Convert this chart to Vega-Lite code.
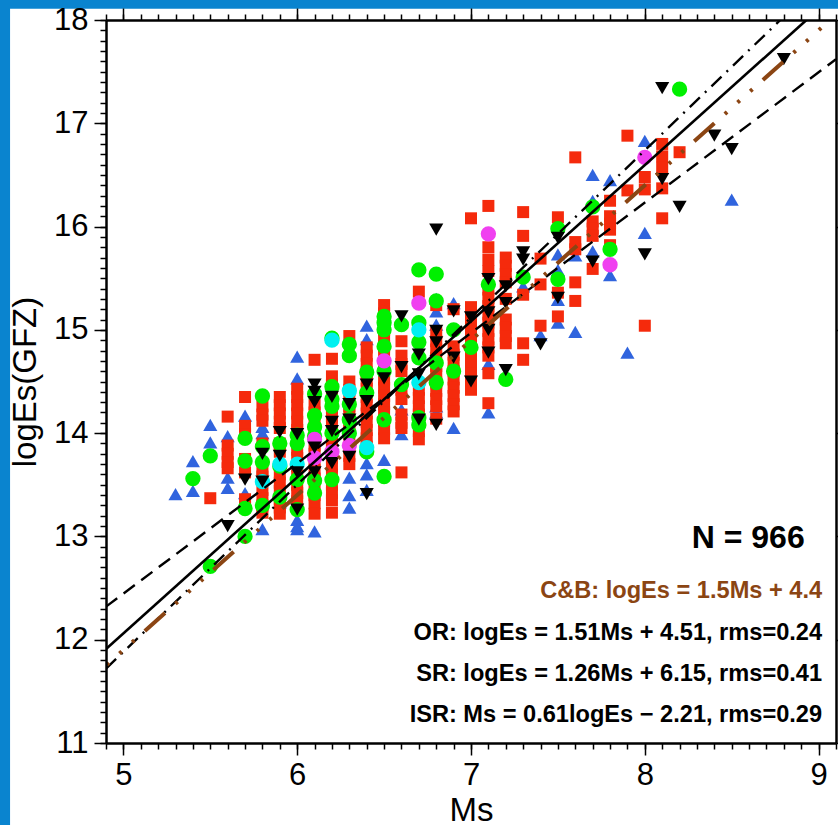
{"$schema":"https://vega.github.io/schema/vega-lite/v6.json","width":730,"height":723,"autosize":"none","padding":{"left":106,"top":20,"right":2,"bottom":82},"background":"#0a84cf","datasets":{
"frame":[{"x0":4.348,"x1":9.3,"y0":18.11,"y1":10}],
"blue":[{"Ms":5.3,"logEs":13.41},{"Ms":5.4,"logEs":13.73},{"Ms":5.4,"logEs":13.44},{"Ms":5.5,"logEs":14.08},{"Ms":5.5,"logEs":13.91},{"Ms":5.6,"logEs":13.97},{"Ms":5.6,"logEs":13.57},{"Ms":5.6,"logEs":13.47},{"Ms":5.7,"logEs":14.17},{"Ms":5.7,"logEs":13.42},{"Ms":5.8,"logEs":14.06},{"Ms":5.8,"logEs":14.0},{"Ms":5.8,"logEs":13.95},{"Ms":5.8,"logEs":13.07},{"Ms":5.9,"logEs":13.33},{"Ms":6.0,"logEs":14.74},{"Ms":6.0,"logEs":14.53},{"Ms":6.0,"logEs":13.16},{"Ms":6.0,"logEs":13.1},{"Ms":6.0,"logEs":13.07},{"Ms":6.1,"logEs":13.05},{"Ms":6.3,"logEs":13.57},{"Ms":6.3,"logEs":13.4},{"Ms":6.3,"logEs":13.28},{"Ms":6.4,"logEs":15.04},{"Ms":6.4,"logEs":14.91},{"Ms":6.4,"logEs":13.71},{"Ms":6.4,"logEs":13.6},{"Ms":6.4,"logEs":13.45},{"Ms":6.5,"logEs":13.74},{"Ms":6.6,"logEs":14.23},{"Ms":6.6,"logEs":13.99},{"Ms":6.7,"logEs":14.15},{"Ms":6.8,"logEs":15.3},{"Ms":6.8,"logEs":15.18},{"Ms":6.8,"logEs":15.05},{"Ms":6.8,"logEs":14.2},{"Ms":6.8,"logEs":14.26},{"Ms":6.9,"logEs":15.26},{"Ms":6.9,"logEs":14.05},{"Ms":7.1,"logEs":14.67},{"Ms":7.1,"logEs":14.2},{"Ms":7.3,"logEs":15.42},{"Ms":7.4,"logEs":14.95},{"Ms":7.5,"logEs":15.73},{"Ms":7.5,"logEs":15.58},{"Ms":7.5,"logEs":15.29},{"Ms":7.5,"logEs":15.07},{"Ms":7.6,"logEs":15.72},{"Ms":7.6,"logEs":14.98},{"Ms":7.7,"logEs":16.5},{"Ms":7.7,"logEs":16.25},{"Ms":7.7,"logEs":15.76},{"Ms":7.8,"logEs":16.45},{"Ms":7.8,"logEs":15.53},{"Ms":7.9,"logEs":14.78},{"Ms":8.0,"logEs":16.83},{"Ms":8.0,"logEs":15.94},{"Ms":8.5,"logEs":16.26}],
"red":[{"Ms":5.5,"logEs":13.37},{"Ms":5.6,"logEs":14.16},{"Ms":5.6,"logEs":13.88},{"Ms":5.6,"logEs":13.8},{"Ms":5.6,"logEs":13.72},{"Ms":5.6,"logEs":13.66},{"Ms":5.7,"logEs":14.35},{"Ms":5.7,"logEs":14.07},{"Ms":5.7,"logEs":13.99},{"Ms":5.7,"logEs":13.75},{"Ms":5.7,"logEs":13.62},{"Ms":5.7,"logEs":13.36},{"Ms":5.7,"logEs":13.28},{"Ms":5.8,"logEs":14.26},{"Ms":5.8,"logEs":14.18},{"Ms":5.8,"logEs":14.12},{"Ms":5.8,"logEs":13.9},{"Ms":5.8,"logEs":13.65},{"Ms":5.8,"logEs":13.58},{"Ms":5.8,"logEs":13.45},{"Ms":5.8,"logEs":13.37},{"Ms":5.8,"logEs":13.3},{"Ms":5.8,"logEs":13.23},{"Ms":5.9,"logEs":14.35},{"Ms":5.9,"logEs":14.27},{"Ms":5.9,"logEs":14.19},{"Ms":5.9,"logEs":14.11},{"Ms":5.9,"logEs":14.05},{"Ms":5.9,"logEs":13.9},{"Ms":5.9,"logEs":13.82},{"Ms":5.9,"logEs":13.6},{"Ms":5.9,"logEs":13.52},{"Ms":5.9,"logEs":13.44},{"Ms":5.9,"logEs":13.36},{"Ms":5.9,"logEs":13.28},{"Ms":5.9,"logEs":13.22},{"Ms":6.0,"logEs":14.43},{"Ms":6.0,"logEs":14.35},{"Ms":6.0,"logEs":14.27},{"Ms":6.0,"logEs":14.19},{"Ms":6.0,"logEs":14.11},{"Ms":6.0,"logEs":14.03},{"Ms":6.0,"logEs":13.84},{"Ms":6.0,"logEs":13.76},{"Ms":6.0,"logEs":13.68},{"Ms":6.0,"logEs":13.6},{"Ms":6.0,"logEs":13.5},{"Ms":6.0,"logEs":13.42},{"Ms":6.0,"logEs":13.34},{"Ms":6.1,"logEs":14.71},{"Ms":6.1,"logEs":14.28},{"Ms":6.1,"logEs":14.2},{"Ms":6.1,"logEs":14.12},{"Ms":6.1,"logEs":14.04},{"Ms":6.1,"logEs":13.96},{"Ms":6.1,"logEs":13.88},{"Ms":6.1,"logEs":13.8},{"Ms":6.1,"logEs":13.72},{"Ms":6.1,"logEs":13.64},{"Ms":6.1,"logEs":13.56},{"Ms":6.1,"logEs":13.48},{"Ms":6.1,"logEs":13.4},{"Ms":6.1,"logEs":13.32},{"Ms":6.1,"logEs":13.22},{"Ms":6.2,"logEs":14.72},{"Ms":6.2,"logEs":14.55},{"Ms":6.2,"logEs":14.47},{"Ms":6.2,"logEs":14.4},{"Ms":6.2,"logEs":14.32},{"Ms":6.2,"logEs":14.24},{"Ms":6.2,"logEs":14.16},{"Ms":6.2,"logEs":14.08},{"Ms":6.2,"logEs":14.0},{"Ms":6.2,"logEs":13.92},{"Ms":6.2,"logEs":13.84},{"Ms":6.2,"logEs":13.76},{"Ms":6.2,"logEs":13.68},{"Ms":6.2,"logEs":13.6},{"Ms":6.2,"logEs":13.5},{"Ms":6.2,"logEs":13.42},{"Ms":6.2,"logEs":13.35},{"Ms":6.2,"logEs":13.23},{"Ms":6.3,"logEs":14.94},{"Ms":6.3,"logEs":14.5},{"Ms":6.3,"logEs":14.42},{"Ms":6.3,"logEs":14.34},{"Ms":6.3,"logEs":14.26},{"Ms":6.3,"logEs":14.18},{"Ms":6.3,"logEs":14.1},{"Ms":6.3,"logEs":14.02},{"Ms":6.3,"logEs":13.94},{"Ms":6.3,"logEs":13.86},{"Ms":6.3,"logEs":13.78},{"Ms":6.3,"logEs":13.7},{"Ms":6.4,"logEs":14.83},{"Ms":6.4,"logEs":14.75},{"Ms":6.4,"logEs":14.67},{"Ms":6.4,"logEs":14.59},{"Ms":6.4,"logEs":14.51},{"Ms":6.4,"logEs":14.43},{"Ms":6.4,"logEs":14.35},{"Ms":6.4,"logEs":14.27},{"Ms":6.4,"logEs":14.19},{"Ms":6.4,"logEs":14.11},{"Ms":6.4,"logEs":14.03},{"Ms":6.4,"logEs":13.95},{"Ms":6.4,"logEs":13.87},{"Ms":6.5,"logEs":15.24},{"Ms":6.5,"logEs":15.16},{"Ms":6.5,"logEs":15.08},{"Ms":6.5,"logEs":15.0},{"Ms":6.5,"logEs":14.92},{"Ms":6.5,"logEs":14.84},{"Ms":6.5,"logEs":14.76},{"Ms":6.5,"logEs":14.68},{"Ms":6.5,"logEs":14.6},{"Ms":6.5,"logEs":14.52},{"Ms":6.5,"logEs":14.44},{"Ms":6.5,"logEs":14.36},{"Ms":6.5,"logEs":14.28},{"Ms":6.5,"logEs":14.2},{"Ms":6.5,"logEs":14.12},{"Ms":6.5,"logEs":14.04},{"Ms":6.5,"logEs":13.95},{"Ms":6.6,"logEs":14.89},{"Ms":6.6,"logEs":14.75},{"Ms":6.6,"logEs":14.67},{"Ms":6.6,"logEs":14.6},{"Ms":6.6,"logEs":14.42},{"Ms":6.6,"logEs":14.33},{"Ms":6.6,"logEs":14.18},{"Ms":6.6,"logEs":14.1},{"Ms":6.6,"logEs":14.05},{"Ms":6.6,"logEs":13.62},{"Ms":6.7,"logEs":15.37},{"Ms":6.7,"logEs":14.42},{"Ms":6.7,"logEs":14.34},{"Ms":6.7,"logEs":14.26},{"Ms":6.7,"logEs":14.18},{"Ms":6.7,"logEs":14.1},{"Ms":6.7,"logEs":14.02},{"Ms":6.7,"logEs":13.94},{"Ms":6.8,"logEs":15.24},{"Ms":6.8,"logEs":14.97},{"Ms":6.8,"logEs":14.89},{"Ms":6.8,"logEs":14.81},{"Ms":6.8,"logEs":14.73},{"Ms":6.8,"logEs":14.65},{"Ms":6.8,"logEs":14.57},{"Ms":6.8,"logEs":14.49},{"Ms":6.8,"logEs":14.41},{"Ms":6.8,"logEs":14.33},{"Ms":6.8,"logEs":14.26},{"Ms":6.8,"logEs":14.14},{"Ms":6.9,"logEs":15.2},{"Ms":6.9,"logEs":14.84},{"Ms":6.9,"logEs":14.76},{"Ms":6.9,"logEs":14.68},{"Ms":6.9,"logEs":14.6},{"Ms":6.9,"logEs":14.52},{"Ms":6.9,"logEs":14.44},{"Ms":6.9,"logEs":14.36},{"Ms":6.9,"logEs":14.28},{"Ms":6.9,"logEs":14.21},{"Ms":7.0,"logEs":16.08},{"Ms":7.0,"logEs":15.22},{"Ms":7.0,"logEs":15.14},{"Ms":7.0,"logEs":15.06},{"Ms":7.0,"logEs":14.98},{"Ms":7.0,"logEs":14.9},{"Ms":7.0,"logEs":14.82},{"Ms":7.0,"logEs":14.74},{"Ms":7.0,"logEs":14.66},{"Ms":7.0,"logEs":14.58},{"Ms":7.0,"logEs":14.5},{"Ms":7.0,"logEs":14.42},{"Ms":7.1,"logEs":16.2},{"Ms":7.1,"logEs":15.8},{"Ms":7.1,"logEs":15.68},{"Ms":7.1,"logEs":15.57},{"Ms":7.1,"logEs":15.39},{"Ms":7.1,"logEs":15.31},{"Ms":7.1,"logEs":15.23},{"Ms":7.1,"logEs":15.15},{"Ms":7.1,"logEs":15.07},{"Ms":7.1,"logEs":14.99},{"Ms":7.1,"logEs":14.91},{"Ms":7.1,"logEs":14.83},{"Ms":7.1,"logEs":14.75},{"Ms":7.1,"logEs":14.58},{"Ms":7.1,"logEs":14.29},{"Ms":7.2,"logEs":15.7},{"Ms":7.2,"logEs":15.62},{"Ms":7.2,"logEs":15.54},{"Ms":7.2,"logEs":15.46},{"Ms":7.2,"logEs":15.3},{"Ms":7.2,"logEs":15.1},{"Ms":7.2,"logEs":15.02},{"Ms":7.2,"logEs":14.94},{"Ms":7.2,"logEs":14.87},{"Ms":7.3,"logEs":16.14},{"Ms":7.3,"logEs":15.91},{"Ms":7.3,"logEs":15.34},{"Ms":7.3,"logEs":14.87},{"Ms":7.3,"logEs":14.71},{"Ms":7.4,"logEs":15.69},{"Ms":7.4,"logEs":15.44},{"Ms":7.4,"logEs":15.04},{"Ms":7.5,"logEs":16.09},{"Ms":7.5,"logEs":15.36},{"Ms":7.5,"logEs":15.13},{"Ms":7.6,"logEs":16.67},{"Ms":7.6,"logEs":15.85},{"Ms":7.6,"logEs":15.78},{"Ms":7.6,"logEs":15.46},{"Ms":7.6,"logEs":15.28},{"Ms":7.7,"logEs":16.05},{"Ms":7.7,"logEs":15.98},{"Ms":7.7,"logEs":15.91},{"Ms":7.7,"logEs":15.59},{"Ms":7.8,"logEs":16.25},{"Ms":7.8,"logEs":16.1},{"Ms":7.8,"logEs":16.03},{"Ms":7.8,"logEs":15.97},{"Ms":7.8,"logEs":15.82},{"Ms":7.9,"logEs":16.88},{"Ms":7.9,"logEs":16.35},{"Ms":8.0,"logEs":16.48},{"Ms":8.0,"logEs":16.36},{"Ms":8.0,"logEs":15.04},{"Ms":8.1,"logEs":16.8},{"Ms":8.1,"logEs":16.68},{"Ms":8.1,"logEs":16.57},{"Ms":8.1,"logEs":16.37},{"Ms":8.1,"logEs":16.08},{"Ms":8.2,"logEs":16.72}],
"green":[{"Ms":5.4,"logEs":13.56},{"Ms":5.5,"logEs":13.78},{"Ms":5.5,"logEs":12.71},{"Ms":5.7,"logEs":13.95},{"Ms":5.7,"logEs":13.73},{"Ms":5.7,"logEs":13.27},{"Ms":5.7,"logEs":13.0},{"Ms":5.8,"logEs":14.36},{"Ms":5.8,"logEs":13.87},{"Ms":5.8,"logEs":13.72},{"Ms":5.8,"logEs":13.3},{"Ms":5.9,"logEs":13.9},{"Ms":5.9,"logEs":13.68},{"Ms":5.9,"logEs":13.38},{"Ms":6.0,"logEs":13.98},{"Ms":6.0,"logEs":13.9},{"Ms":6.0,"logEs":13.55},{"Ms":6.0,"logEs":13.26},{"Ms":6.1,"logEs":14.38},{"Ms":6.1,"logEs":14.17},{"Ms":6.1,"logEs":14.06},{"Ms":6.1,"logEs":13.97},{"Ms":6.1,"logEs":13.54},{"Ms":6.1,"logEs":13.42},{"Ms":6.2,"logEs":14.92},{"Ms":6.2,"logEs":14.45},{"Ms":6.2,"logEs":14.33},{"Ms":6.2,"logEs":14.26},{"Ms":6.2,"logEs":14.0},{"Ms":6.2,"logEs":13.55},{"Ms":6.3,"logEs":14.86},{"Ms":6.3,"logEs":14.75},{"Ms":6.3,"logEs":14.28},{"Ms":6.3,"logEs":14.13},{"Ms":6.3,"logEs":14.0},{"Ms":6.4,"logEs":14.59},{"Ms":6.4,"logEs":14.39},{"Ms":6.4,"logEs":13.82},{"Ms":6.5,"logEs":15.13},{"Ms":6.5,"logEs":15.07},{"Ms":6.5,"logEs":15.0},{"Ms":6.5,"logEs":14.84},{"Ms":6.5,"logEs":14.6},{"Ms":6.5,"logEs":14.13},{"Ms":6.5,"logEs":13.58},{"Ms":6.6,"logEs":15.05},{"Ms":6.6,"logEs":14.47},{"Ms":6.7,"logEs":15.58},{"Ms":6.7,"logEs":15.07},{"Ms":6.7,"logEs":14.88},{"Ms":6.7,"logEs":14.73},{"Ms":6.7,"logEs":14.08},{"Ms":6.7,"logEs":14.15},{"Ms":6.8,"logEs":15.54},{"Ms":6.8,"logEs":15.28},{"Ms":6.8,"logEs":14.68},{"Ms":6.8,"logEs":14.49},{"Ms":6.9,"logEs":15.0},{"Ms":6.9,"logEs":14.6},{"Ms":7.0,"logEs":14.83},{"Ms":7.1,"logEs":15.44},{"Ms":7.2,"logEs":14.52},{"Ms":7.3,"logEs":15.51},{"Ms":7.5,"logEs":15.98},{"Ms":7.5,"logEs":15.49},{"Ms":7.7,"logEs":16.19},{"Ms":7.8,"logEs":15.78},{"Ms":8.2,"logEs":17.33}],
"magenta":[{"Ms":6.1,"logEs":13.94},{"Ms":6.1,"logEs":13.76},{"Ms":6.2,"logEs":13.82},{"Ms":6.3,"logEs":13.88},{"Ms":6.5,"logEs":14.7},{"Ms":6.7,"logEs":15.26},{"Ms":7.1,"logEs":15.93},{"Ms":7.8,"logEs":15.63},{"Ms":8.0,"logEs":16.67}],
"cyan":[{"Ms":5.8,"logEs":13.53},{"Ms":5.9,"logEs":13.7},{"Ms":6.0,"logEs":13.7},{"Ms":6.2,"logEs":14.9},{"Ms":6.3,"logEs":14.41},{"Ms":6.4,"logEs":13.86},{"Ms":6.7,"logEs":15.0},{"Ms":6.7,"logEs":14.49}],
"black":[{"Ms":5.6,"logEs":13.1},{"Ms":5.7,"logEs":13.55},{"Ms":5.8,"logEs":13.8},{"Ms":5.8,"logEs":13.53},{"Ms":5.9,"logEs":14.01},{"Ms":5.9,"logEs":13.78},{"Ms":6.0,"logEs":13.99},{"Ms":6.0,"logEs":13.62},{"Ms":6.0,"logEs":13.26},{"Ms":6.1,"logEs":14.47},{"Ms":6.1,"logEs":14.4},{"Ms":6.1,"logEs":14.3},{"Ms":6.1,"logEs":13.86},{"Ms":6.1,"logEs":13.62},{"Ms":6.2,"logEs":14.35},{"Ms":6.2,"logEs":14.11},{"Ms":6.2,"logEs":14.02},{"Ms":6.2,"logEs":13.71},{"Ms":6.3,"logEs":14.28},{"Ms":6.3,"logEs":14.13},{"Ms":6.3,"logEs":13.77},{"Ms":6.4,"logEs":14.47},{"Ms":6.4,"logEs":14.31},{"Ms":6.4,"logEs":13.41},{"Ms":6.5,"logEs":14.53},{"Ms":6.6,"logEs":15.13},{"Ms":6.6,"logEs":14.64},{"Ms":6.7,"logEs":14.76},{"Ms":6.7,"logEs":14.57},{"Ms":6.7,"logEs":14.13},{"Ms":6.8,"logEs":15.97},{"Ms":6.8,"logEs":14.99},{"Ms":6.8,"logEs":14.88},{"Ms":6.8,"logEs":14.08},{"Ms":6.9,"logEs":15.18},{"Ms":6.9,"logEs":14.73},{"Ms":7.0,"logEs":15.12},{"Ms":7.0,"logEs":14.5},{"Ms":7.1,"logEs":15.49},{"Ms":7.1,"logEs":15.17},{"Ms":7.1,"logEs":15.0},{"Ms":7.1,"logEs":14.78},{"Ms":7.2,"logEs":15.42},{"Ms":7.2,"logEs":15.26},{"Ms":7.2,"logEs":14.61},{"Ms":7.3,"logEs":15.75},{"Ms":7.3,"logEs":15.68},{"Ms":7.4,"logEs":14.86},{"Ms":7.5,"logEs":15.89},{"Ms":7.5,"logEs":15.31},{"Ms":7.7,"logEs":15.66},{"Ms":8.0,"logEs":15.73},{"Ms":8.1,"logEs":17.34},{"Ms":8.1,"logEs":16.46},{"Ms":8.2,"logEs":16.19},{"Ms":8.4,"logEs":16.88},{"Ms":8.5,"logEs":16.75},{"Ms":8.8,"logEs":17.62}],
"texts":[{"label":"N = 966","Ms":8.92,"logEs":12.985,"size":32},{"label":"OR: logEs = 1.51Ms + 4.51, rms=0.24","Ms":9.02,"logEs":12.065,"size":23.6},{"label":"SR: logEs = 1.26Ms + 6.15, rms=0.41","Ms":9.02,"logEs":11.668,"size":23.6},{"label":"ISR: Ms = 0.61logEs \u2212 2.21, rms=0.29","Ms":9.02,"logEs":11.27,"size":23.6}]
},
"encoding":{"x":{"field":"Ms","type":"quantitative","scale":{"domain":[4.9,9.1],"nice":false,"zero":false},"axis":null},"y":{"field":"logEs","type":"quantitative","scale":{"domain":[11,18],"nice":false,"zero":false},"axis":null}},
"layer":[
{"data":{"name":"frame"},"mark":{"type":"rect","color":"white","opacity":1,"clip":false},"encoding":{"x":{"field":"x0","type":"quantitative","axis":null},"x2":{"field":"x1"},"y":{"field":"y0","type":"quantitative","axis":null},"y2":{"field":"y1"}}},
{"data":{"name":"blue"},"mark":{"type":"point","shape":"triangle-up","filled":true,"color":"#3064de","opacity":1,"size":200},
"encoding":{"x":{"field":"Ms","type":"quantitative","scale":{"domain":[4.9,9.1],"nice":false,"zero":false},"axis":{"orient":"bottom","zindex":1,"grid":false,"values":[5,6,7,8,9],"format":"d","title":"Ms","titleFont":"Liberation Sans","titleFontWeight":"normal","titleFontSize":33,"titleColor":"black","titlePadding":4,"labelFont":"Liberation Sans","labelFontSize":31,"labelColor":"black","labelPadding":5,"labelFlush":false,"labelOverlap":false,"tickSize":12,"tickWidth":1.5,"tickColor":"black","domainColor":"black","domainWidth":2.5}},
"y":{"field":"logEs","type":"quantitative","scale":{"domain":[11,18],"nice":false,"zero":false},"axis":{"orient":"left","zindex":1,"grid":false,"values":[11,12,13,14,15,16,17,18],"format":"d","title":"logEs(GFZ)","titleFont":"Liberation Sans","titleFontWeight":"normal","titleFontSize":33,"titleColor":"black","titlePadding":11,"labelFont":"Liberation Sans","labelFontSize":31,"labelColor":"black","labelPadding":6,"labelFlush":false,"labelOverlap":false,"tickSize":12,"tickWidth":1.5,"tickColor":"black","domainColor":"black","domainWidth":2.5}}}},
{"data":{"name":"red"},"mark":{"type":"point","shape":"square","filled":true,"color":"#f52a0c","opacity":1,"size":144},
"encoding":{"x":{"field":"Ms","type":"quantitative","axis":{"orient":"bottom","zindex":1,"grid":false,"title":null,"labels":false,"domain":false,"values":[4.9,5,5.1,5.2,5.3,5.4,5.5,5.6,5.7,5.8,5.9,6,6.1,6.2,6.3,6.4,6.5,6.6,6.7,6.8,6.9,7,7.1,7.2,7.3,7.4,7.5,7.6,7.7,7.8,7.9,8,8.1,8.2,8.3,8.4,8.5,8.6,8.7,8.8,8.9,9,9.1],"tickSize":6,"tickWidth":1.5,"tickColor":"black"}},
"y":{"field":"logEs","type":"quantitative","axis":{"orient":"left","zindex":1,"grid":false,"title":null,"labels":false,"domain":false,"values":[11,11.1,11.2,11.3,11.4,11.5,11.6,11.7,11.8,11.9,12,12.1,12.2,12.3,12.4,12.5,12.6,12.7,12.8,12.9,13,13.1,13.2,13.3,13.4,13.5,13.6,13.7,13.8,13.9,14,14.1,14.2,14.3,14.4,14.5,14.6,14.7,14.8,14.9,15,15.1,15.2,15.3,15.4,15.5,15.6,15.7,15.8,15.9,16,16.1,16.2,16.3,16.4,16.5,16.6,16.7,16.8,16.9,17,17.1,17.2,17.3,17.4,17.5,17.6,17.7,17.8,17.9,18],"tickSize":6,"tickWidth":1.5,"tickColor":"black"}}}},
{"data":{"name":"green"},"mark":{"type":"point","shape":"circle","filled":true,"color":"#00f000","opacity":1,"size":235},
"encoding":{"x":{"field":"Ms","type":"quantitative","axis":{"orient":"top","zindex":1,"grid":false,"title":null,"labels":false,"values":[5,6,7,8,9],"tickSize":12,"tickWidth":1.5,"tickColor":"black","domainColor":"black","domainWidth":2.5}},
"y":{"field":"logEs","type":"quantitative","axis":{"orient":"right","zindex":1,"grid":false,"title":null,"labels":false,"values":[11,12,13,14,15,16,17,18],"tickSize":12,"tickWidth":1.5,"tickColor":"black","domainColor":"black","domainWidth":2.5}}}},
{"data":{"name":"magenta"},"mark":{"type":"point","shape":"circle","filled":true,"color":"#f040f0","opacity":1,"size":235}},
{"data":{"name":"cyan"},"mark":{"type":"point","shape":"circle","filled":true,"color":"#00f0f0","opacity":1,"size":235}},
{"data":{"name":"black"},"mark":{"type":"point","shape":"triangle-down","filled":true,"color":"black","opacity":1,"size":200},
"encoding":{"x":{"field":"Ms","type":"quantitative","axis":{"orient":"top","zindex":1,"grid":false,"title":null,"labels":false,"domain":false,"values":[4.9,5,5.1,5.2,5.3,5.4,5.5,5.6,5.7,5.8,5.9,6,6.1,6.2,6.3,6.4,6.5,6.6,6.7,6.8,6.9,7,7.1,7.2,7.3,7.4,7.5,7.6,7.7,7.8,7.9,8,8.1,8.2,8.3,8.4,8.5,8.6,8.7,8.8,8.9,9,9.1],"tickSize":6,"tickWidth":1.5,"tickColor":"black"}},
"y":{"field":"logEs","type":"quantitative","axis":null}}},
{"data":{"values":[{"Ms":4.9,"logEs":11.91},{"Ms":8.93,"logEs":18}]},"mark":{"type":"line","color":"black","strokeWidth":2.6,"clip":true}},
{"data":{"values":[{"Ms":4.9,"logEs":12.32},{"Ms":9.1,"logEs":17.62}]},"mark":{"type":"line","color":"black","strokeWidth":2.4,"strokeDash":[14,8],"clip":true}},
{"data":{"values":[{"Ms":4.9,"logEs":11.72},{"Ms":8.78,"logEs":18}]},"mark":{"type":"line","color":"black","strokeWidth":2.4,"strokeDash":[14,7,2,7],"clip":true}},
{"data":{"values":[{"Ms":4.9,"logEs":11.75},{"Ms":9.1,"logEs":18.05}]},"mark":{"type":"line","color":"#8b4513","strokeWidth":4,"strokeDash":[27,14,3,14,3,14,3,14],"strokeDashOffset":40,"clip":true}},
{"data":{"name":"texts"},"mark":{"type":"text","align":"right","baseline":"middle","font":"Liberation Sans","fontWeight":"bold","color":"black"},"encoding":{"text":{"field":"label"},"size":{"field":"size","type":"quantitative","scale":null}}},
{"data":{"values":[{"label":"C&B: logEs = 1.5Ms + 4.4","Ms":9.02,"logEs":12.47}]},"mark":{"type":"text","align":"right","baseline":"middle","font":"Liberation Sans","fontWeight":"bold","fontSize":23.6,"color":"#8b4513"},"encoding":{"text":{"field":"label"}}}
],
"resolve":{"axis":{"x":"independent","y":"independent"}},
"config":{"view":{"stroke":null}}}
